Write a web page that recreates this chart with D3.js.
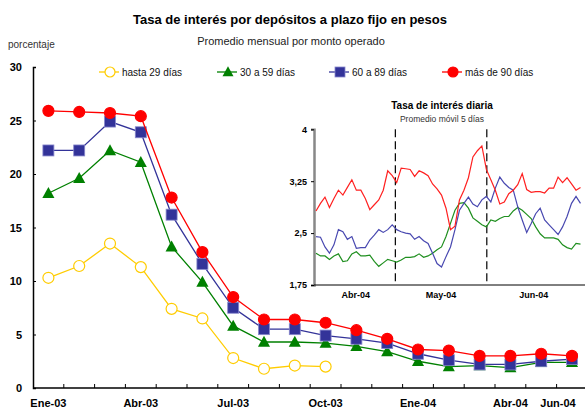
<!DOCTYPE html>
<html>
<head>
<meta charset="utf-8">
<script src="https://cdn.jsdelivr.net/npm/d3@7"></script>
<style>
  body { margin: 0; background: #fff; }
  svg { font-family: "Liberation Sans", Arial, sans-serif; }
</style>
</head>
<body>
<div id="chart"></div>
<script>
// monthly averages, Ene-03 .. Jun-04
const months = ["Ene-03","Feb-03","Mar-03","Abr-03","May-03","Jun-03","Jul-03","Ago-03","Sep-03",
                "Oct-03","Nov-03","Dic-03","Ene-04","Feb-04","Mar-04","Abr-04","May-04","Jun-04"];
const monthLabels = ["Ene-03","Abr-03","Jul-03","Oct-03","Ene-04","Abr-04","Jun-04"];
const yTicks = [0, 5, 10, 15, 20, 25, 30];

const hasta29 = [10.3, 11.4, 13.5, 11.3, 7.4, 6.5, 2.8, 1.8, 2.1, 2.0];
const de30a59 = [18.2, 19.6, 22.2, 21.1, 13.2, 9.9, 5.8, 4.3, 4.3, 4.2, 3.9, 3.4, 2.5, 2.0, 2.1, 1.9, 2.4, 2.4];
const de60a89 = [22.2, 22.2, 24.9, 23.9, 16.2, 11.6, 7.5, 5.5, 5.5, 4.9, 4.6, 4.2, 3.2, 2.6, 2.2, 2.2, 2.5, 2.7];
const mas90 = [25.9, 25.8, 25.7, 25.4, 17.8, 12.7, 8.5, 6.4, 6.4, 6.1, 5.4, 4.6, 3.6, 3.5, 3.0, 3.0, 3.2, 3.0];

// daily 5-day moving average, abr-04 .. jun-04 (business days)
const dailyMonths = ["Abr-04", "May-04", "Jun-04"];
const monthBreaks = [17.7, 38.1];
const insetTicks = [1.75, 2.5, 3.25, 4];
const diaria30a59 = [2.21,2.17,2.17,2.12,2.17,2.20,2.09,2.10,2.20,2.23,2.17,2.17,2.18,2.09,2.02,2.07,2.12,2.10,
  2.08,2.11,2.15,2.15,2.16,2.20,2.15,2.17,2.21,2.26,2.30,2.45,2.64,2.83,2.93,2.94,2.86,2.72,2.67,2.62,
  2.59,2.69,2.67,2.71,2.74,2.74,2.82,2.87,2.83,2.77,2.71,2.59,2.49,2.43,2.43,2.43,2.41,2.33,2.29,2.27,2.35,2.34];
const diaria60a89 = [2.45,2.44,2.30,2.21,2.33,2.55,2.52,2.41,2.45,2.28,2.29,2.29,2.40,2.47,2.55,2.51,2.55,2.62,
  2.55,2.52,2.50,2.49,2.41,2.45,2.39,2.35,2.21,2.06,2.01,2.16,2.30,2.55,2.83,2.93,3.02,2.92,2.88,2.98,
  3.03,2.95,3.15,3.31,3.22,3.16,3.12,2.88,2.69,2.51,2.64,2.78,2.86,2.69,2.62,2.55,2.48,2.59,2.74,2.93,3.03,2.93];
const diariaMas90 = [2.82,2.93,3.02,2.87,3.00,3.12,3.05,3.16,3.27,3.12,3.12,3.00,2.84,2.91,2.98,3.12,3.40,3.33,
  3.23,3.44,3.43,3.42,3.32,3.40,3.37,3.33,3.21,3.14,3.05,2.86,2.55,2.60,2.98,3.12,3.30,3.60,3.69,3.76,
  3.42,3.27,3.12,2.92,2.95,3.07,3.12,3.20,3.36,3.13,3.09,3.10,3.10,3.08,3.15,3.15,3.31,3.23,3.30,3.21,3.12,3.16];

const series = [
  { name: "hasta 29 días", values: hasta29, color: "#ffcc00", symbol: "circle", open: true },
  { name: "30 a 59 días", values: de30a59, color: "#008000", symbol: "triangle" },
  { name: "60 a 89 días", values: de60a89, color: "#333399", symbol: "square" },
  { name: "más de 90 días", values: mas90, color: "#ff0000", symbol: "circle" }
];
const dailySeries = [
  { values: diaria30a59, color: "#1f8f1f" },
  { values: diaria60a89, color: "#4848b0" },
  { values: diariaMas90, color: "#ff2020" }
];
const legendX = [110, 228, 340, 453];

const width = 585, height = 410;
const svg = d3.select("#chart").append("svg")
  .attr("width", width).attr("height", height);

// titles
svg.append("text").attr("x", 290).attr("y", 24).attr("text-anchor", "middle")
  .attr("font-size", 13).attr("font-weight", "bold").text("Tasa de interés por depósitos a plazo fijo en pesos");
svg.append("text").attr("x", 291).attr("y", 45).attr("text-anchor", "middle")
  .attr("font-size", 11).attr("fill", "#222").text("Promedio mensual por monto operado");
svg.append("text").attr("x", 8).attr("y", 48)
  .attr("font-size", 10).attr("fill", "#333").text("porcentaje");

// scales
const x = d3.scaleBand().domain(months).range([33, 33 + 18 * 30.8]);
const y = d3.scaleLinear().domain([0, 30]).range([388, 67]);
const cx = (i) => x(months[i]) + x.bandwidth() / 2;

// y axis
const yAxis = svg.append("g").attr("transform", "translate(33,0)")
  .call(d3.axisLeft(y).tickValues(yTicks).tickSize(-3).tickPadding(11));
yAxis.select(".domain").attr("stroke-width", 1.5);
yAxis.selectAll("text").attr("font-size", 11).attr("font-weight", "bold").attr("font-family", "Liberation Sans, Arial");

// x axis: ticks between months
svg.append("line").attr("x1", 33).attr("x2", width).attr("y1", y(0)).attr("y2", y(0))
  .attr("stroke", "#000").attr("stroke-width", 1.5);
svg.append("g").selectAll("line").data(months.slice(1)).join("line")
  .attr("x1", d => x(d)).attr("x2", d => x(d))
  .attr("y1", y(0)).attr("y2", y(0) - 4)
  .attr("stroke", "#000");
svg.append("g").selectAll("text").data(monthLabels).join("text")
  .attr("x", d => Math.min(x(d) + x.bandwidth() / 2, width - 27))
  .attr("y", 407).attr("text-anchor", "middle")
  .attr("font-size", 11).attr("font-weight", "bold").text(d => d);

function drawSymbol(g, s, px, py, size) {
  if (s.symbol === "circle") {
    g.append("circle").attr("cx", px).attr("cy", py).attr("r", size * 0.5)
      .attr("fill", s.open ? "#fff" : s.color).attr("stroke", s.color).attr("stroke-width", 1.2);
  } else if (s.symbol === "square") {
    g.append("rect").attr("x", px - size * 0.5).attr("y", py - size * 0.5)
      .attr("width", size).attr("height", size).attr("fill", s.color)
      .attr("stroke", "#8888cc").attr("stroke-width", 0.8);
  } else {
    const h = size * 0.95;
    g.append("path").attr("d", `M${px},${py - h * 0.6}L${px + size * 0.55},${py + h * 0.45}L${px - size * 0.55},${py + h * 0.45}Z`)
      .attr("fill", s.color);
  }
}

// series lines and markers
const line = d3.line().x((d, i) => cx(i)).y(d => y(d));
series.forEach(s => {
  const g = svg.append("g");
  g.append("path").attr("d", line(s.values)).attr("fill", "none")
    .attr("stroke", s.color).attr("stroke-width", 1.3);
  s.values.forEach((v, i) => drawSymbol(g, s, cx(i), y(v), 11));
});

// legend
series.forEach((s, i) => {
  const g = svg.append("g");
  g.append("line").attr("x1", legendX[i] - 11).attr("x2", legendX[i] + 9).attr("y1", 72).attr("y2", 72)
    .attr("stroke", s.color).attr("stroke-width", 1.3);
  drawSymbol(g, s, legendX[i], 72, 10);
  g.append("text").attr("x", legendX[i] + 12).attr("y", 76)
    .attr("font-size", 10).attr("fill", "#111").text(s.name);
});

// inset: daily rates
const inset = svg.append("g");
inset.append("rect").attr("x", 290).attr("y", 95).attr("width", 295).attr("height", 210).attr("fill", "#fff");
const ix = d3.scaleLinear().domain([0, diariaMas90.length - 1]).range([316, 580.5]);
const iy = d3.scaleLinear().domain([1.75, 4]).range([285, 129.3]);

inset.append("text").attr("x", 442).attr("y", 109).attr("text-anchor", "middle")
  .attr("font-size", 10).attr("font-weight", "bold").text("Tasa de interés diaria");
inset.append("text").attr("x", 442).attr("y", 122).attr("text-anchor", "middle")
  .attr("font-size", 8.5).attr("fill", "#333").text("Promedio móvil 5 días");

const iyAxis = inset.append("g").attr("transform", "translate(314,0)")
  .call(d3.axisLeft(iy).tickValues(insetTicks).tickSize(3).tickPadding(4)
    .tickFormat(d => String(d).replace(".", ",")));
iyAxis.select(".domain").attr("stroke", "#888").attr("stroke-width", 2.5);
iyAxis.selectAll("text").attr("font-size", 9).attr("font-weight", "bold").attr("font-family", "Liberation Sans, Arial");

inset.append("line").attr("x1", 314).attr("x2", width).attr("y1", iy(1.75)).attr("y2", iy(1.75))
  .attr("stroke", "#000").attr("stroke-width", 1);

inset.append("g").selectAll("line").data(monthBreaks).join("line")
  .attr("x1", d => ix(d)).attr("x2", d => ix(d))
  .attr("y1", iy(4)).attr("y2", iy(1.75))
  .attr("stroke", "#000").attr("stroke-width", 1.2).attr("stroke-dasharray", "8,4");

const bounds = [0, ...monthBreaks, diariaMas90.length - 1];
inset.append("g").selectAll("text").data(dailyMonths).join("text")
  .attr("x", (d, i) => ix((bounds[i] + bounds[i + 1]) / 2))
  .attr("y", 298).attr("text-anchor", "middle")
  .attr("font-size", 9).attr("font-weight", "bold").text(d => d);

const iline = d3.line().x((d, i) => ix(i)).y(d => iy(d));
inset.append("g").selectAll("path").data(dailySeries).join("path")
  .attr("d", d => iline(d.values)).attr("fill", "none")
  .attr("stroke", d => d.color).attr("stroke-width", 1.2);
</script>
</body>
</html>
